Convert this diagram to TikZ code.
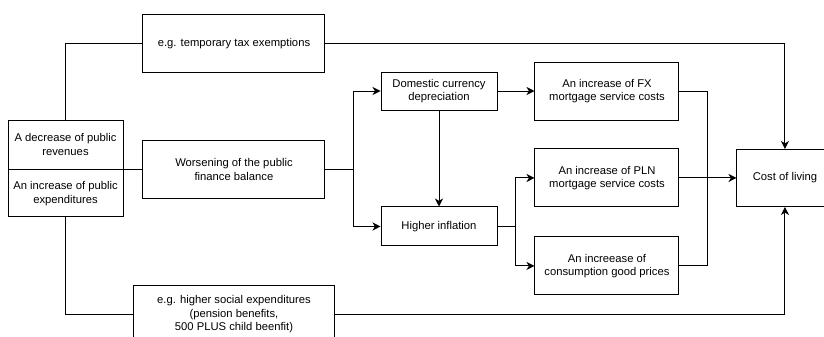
\documentclass[tikz,border=0pt]{standalone}
\usepackage{fontspec}
\setmainfont{Liberation Sans}
\usetikzlibrary{arrows.meta,positioning}
\tikzset{
  box/.style={draw, line width=0.7pt, align=center, inner sep=2pt,
    font=\fontsize{8}{9.6}\selectfont, minimum height=1.45cm},
  link/.style={draw, line width=0.7pt},
  arrow/.style={draw, line width=0.7pt, -{Stealth[length=2mm, width=2mm, inset=0.6mm]}}
}
\begin{document}
\begin{tikzpicture}
    \clip (0,0) rectangle (20.6,-8.425);
    % left: budget causes
    \node[box, minimum width=2.875cm, minimum height=1.225cm] (rev) at (1.6375,-3.6125) {A decrease of public\\revenues};
    \node[box, minimum width=2.875cm, minimum height=1.175cm, below=0pt of rev] (exp) {An increase of public\\expenditures};
    \node[box, minimum width=4.55cm, anchor=west, right=0.475cm of rev.south east] (worse) {Worsening of the public\\finance balance};
    \node[box, minimum width=4.55cm, above=1.675cm of worse] (tax) {e.g. temporary tax exemptions};
    \node[box, minimum width=5.025cm, below=2.15cm of worse] (social) {e.g. higher social expenditures\\(pension benefits,\\500 PLUS child beenfit)};
    % middle: channels
    \node[box, minimum width=2.9cm, minimum height=0.95cm] (dep) at (10.975,-2.275) {Domestic currency\\depreciation};
    \node[box, minimum width=2.9cm, minimum height=0.975cm, below=2.4cm of dep] (infl) {Higher inflation};
    \node[box, minimum width=3.6cm, right=0.925cm of dep] (fx) {An increase of FX\\mortgage service costs};
    \node[box, minimum width=3.6cm, below=0.7cm of fx] (pln) {An increase of PLN\\mortgage service costs};
    \node[box, minimum width=3.6cm, below=0.725cm of pln] (cons) {An increease of\\consumption good prices};
    % box runs off the right edge
    \node[box, draw=none, minimum width=2.4cm, minimum height=1.425cm, right=1.425cm of pln] (cost) {Cost of living};
    \draw[link] ([xshift=0.6cm]cost.north east) -- (cost.north west) -- (cost.south west) -- ([xshift=0.6cm]cost.south east);

    \draw[link] (rev.north) |- (tax.west);
    \draw[arrow] (tax.east) -| (cost.north);
    \draw[link] (rev.south east) -- (worse.west);
    \draw[arrow] (worse.east) -- ++(0.7,0) |- (dep.west);
    \draw[arrow] (worse.east) -- ++(0.7,0) |- (infl.west);
    \draw[arrow] (dep) -- (fx);
    \draw[arrow] (dep) -- (infl);
    \draw[arrow] (infl.east) -- ++(0.45,0) |- (pln.west);
    \draw[arrow] (infl.east) -- ++(0.45,0) |- (cons.west);
    \draw[arrow] (pln) -- (cost);
    \draw[link] (fx.east) -- ++(0.7,0) |- (cons.east);
    \draw[link] (exp.south) |- (social.west);
    \draw[arrow] (social.east) -| (cost.south);
\end{tikzpicture}
\end{document}
